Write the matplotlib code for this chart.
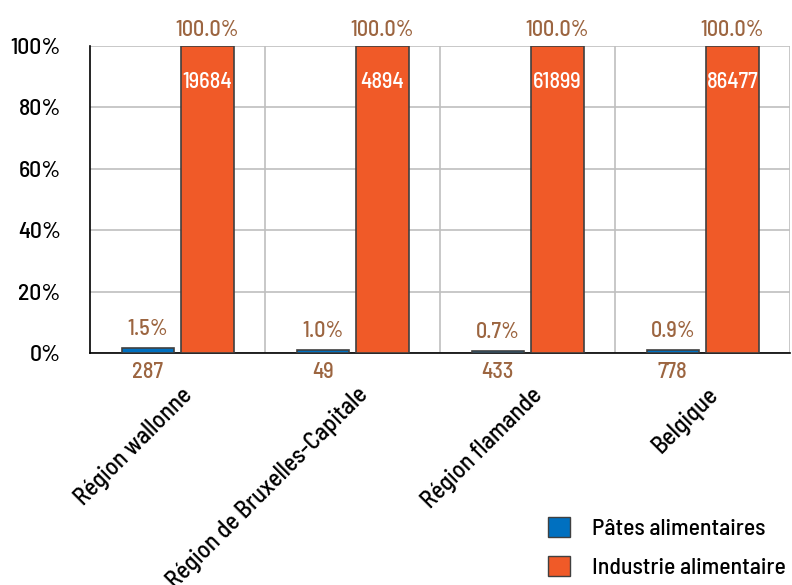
import matplotlib
matplotlib.use("Agg")
import matplotlib.pyplot as plt
import numpy as np
from matplotlib.patches import Patch

plt.rcParams['font.family'] = ['Barlow Semi Condensed', 'Barlow Condensed', 'DejaVu Sans']
plt.rcParams['font.weight'] = 'medium'

categories = ["Région wallonne", "Région de Bruxelles-Capitale", "Région flamande", "Belgique"]
pates_pct = [1.5, 1.0, 0.7, 0.9]
industrie_pct = [100.0, 100.0, 100.0, 100.0]
pates_n = [287, 49, 433, 778]
industrie_n = [19684, 4894, 61899, 86477]
series_names = ["Pâtes alimentaires", "Industrie alimentaire"]

blue = "#0070C0"
orange = "#F05A28"
brown = "#9C6540"
edge = "#404040"

fig = plt.figure(figsize=(7.92, 5.85), dpi=100)
ax = fig.add_axes([90/792, 1-353/585, 700/792, 307/585])

x = np.arange(len(categories))
w = 0.30
off = 0.17
ax.bar(x - off, pates_pct, w, color=blue, edgecolor=edge, linewidth=1.2, zorder=3)
ax.bar(x + off, industrie_pct, w, color=orange, edgecolor=edge, linewidth=1.2, zorder=3)

fs = 16
for i in range(len(categories)):
    ax.text(x[i] - off, pates_pct[i] + 3, f"{pates_pct[i]:.1f}%", ha='center', va='bottom',
            color=brown, fontsize=fs)
    ax.text(x[i] - off, -3, f"{pates_n[i]}", ha='center', va='top', color=brown, fontsize=fs)
    ax.text(x[i] + off, industrie_pct[i] + 2, f"{industrie_pct[i]:.1f}%", ha='center', va='bottom',
            color=brown, fontsize=fs)
    ax.text(x[i] + off, industrie_pct[i] - 8.5, f"{industrie_n[i]}", ha='center', va='top',
            color='white', fontsize=fs)

ax.set_xlim(-0.5, len(categories) - 0.5)
ax.set_ylim(0, 100)
ax.set_yticks(np.arange(0, 101, 20))
ax.set_yticklabels([f"{v}%" for v in range(0, 101, 20)], fontsize=17)
ax.yaxis.grid(True, color='#BFBFBF', linewidth=1.2, zorder=0)
for b in np.arange(0.5, len(categories) - 0.5, 1.0):
    ax.axvline(b, color='#BFBFBF', linewidth=1.2, zorder=0)
ax.axvline(len(categories) - 0.5, color='#BFBFBF', linewidth=1.2, zorder=0)
ax.tick_params(axis='y', length=0, pad=21)
ax.tick_params(axis='x', length=0, pad=22)
ax.set_xticks(x + 0.02)
ax.set_xticklabels(categories, rotation=45, ha='right', rotation_mode='anchor', fontsize=17.5)
for s in ['top', 'right']:
    ax.spines[s].set_visible(False)
ax.spines['left'].set_color('black')
ax.spines['bottom'].set_color('black')
ax.spines['left'].set_linewidth(1.2)
ax.spines['bottom'].set_linewidth(1.2)

handles = [Patch(facecolor=blue, edgecolor=edge), Patch(facecolor=orange, edgecolor=edge)]
fig.legend(handles, series_names, loc='lower right', bbox_to_anchor=(1.019, -0.024),
           frameon=False, fontsize=17, handlelength=0.93, handleheight=0.93, labelspacing=0.7,
           handletextpad=0.93)

fig.savefig("out.png", dpi=100)
